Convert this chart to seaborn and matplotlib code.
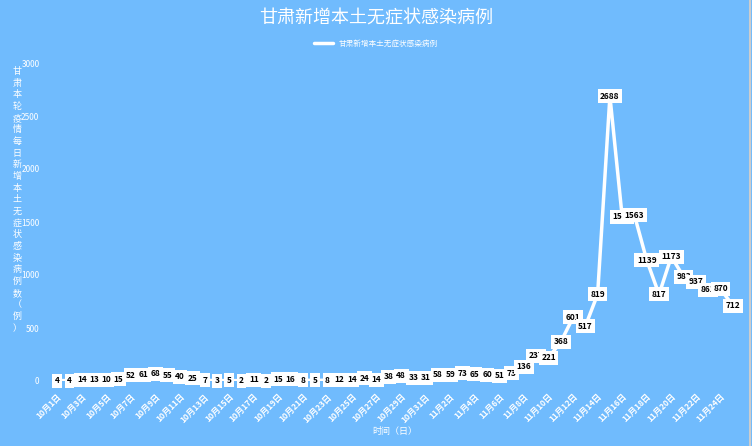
import matplotlib
matplotlib.use('Agg')
import matplotlib.pyplot as plt
import seaborn as sns
import numpy as np

# Oct 1 .. Nov 25
dates = [f'10月{d}日' for d in range(1, 32)] + [f'11月{d}日' for d in range(1, 26)]
cases = [4, 4, 14, 13, 10, 15, 52, 61, 68, 55, 40, 25, 7, 3, 5, 2, 11, 2, 15, 16,
         8, 5, 8, 12, 14, 24, 14, 38, 48, 33, 31,
         58, 59, 73, 65, 60, 51, 73, 136, 237, 221, 368, 601, 517, 819, 2688,
         1548, 1563, 1139, 817, 1173, 983, 937, 861, 870, 712]
y_ticks = [0, 500, 1000, 1500, 2000, 2500, 3000]

title = '甘肃新增本土无症状感染病例'
y_label = '甘肃本轮疫情每日新增本土无症状感染病例数（例）'
x_label = '时间（日）'
bg = '#70BBFD'

sns.set_style('white')
plt.rcParams['font.family'] = ['Noto Sans CJK SC', 'DejaVu Sans']

fig = plt.figure(figsize=(7.52, 4.46), dpi=100, facecolor=bg)
ax = fig.add_axes([45 / 752, 65 / 446, 700 / 752, 318 / 446])
ax.set_facecolor(bg)

idx = np.arange(len(cases))
sns.lineplot(x=idx, y=cases, ax=ax, color='white', linewidth=2.5, label=title)

ax.set_xlim(-1, 56)
ax.set_ylim(0, 3000)
ax.set_yticks(y_ticks)
ax.set_yticklabels([str(t) for t in y_ticks], color='white', fontsize=6)
ax.set_xticks(idx[::2])
ax.set_xticklabels(dates[::2], rotation=45, ha='right', rotation_mode='anchor',
                   color='white', fontsize=6, fontweight='bold')
ax.tick_params(length=0, pad=4)
ax.tick_params(axis='x', pad=8)
for s in ax.spines.values():
    s.set_visible(False)
ax.set_xlabel(x_label, color='white', fontsize=6.5, labelpad=2)
ax.set_ylabel('')

fig.text(17 / 752, 1 - 200 / 446, '\n'.join(y_label), color='white', fontsize=6.5,
         ha='center', va='center', linespacing=1.38)

for x, v in zip(idx, cases):
    ax.text(x, v, str(v), fontsize=6, fontweight='bold', color='black',
            ha='center', va='center', zorder=5, clip_on=False,
            bbox=dict(boxstyle='square,pad=0.3', facecolor='white', edgecolor='none'))

fig.text(0.5, 1 - 18 / 446, title, color='white', fontsize=13, ha='center',
         va='center', fontweight='light')
leg = ax.legend(loc='center', bbox_to_anchor=(0.5, 1 - 44 / 446), bbox_transform=fig.transFigure,
                frameon=False, fontsize=5.5, handlelength=2.5)
for t in leg.get_texts():
    t.set_color('white')

fig.add_artist(plt.Line2D([0.997, 0.997], [0, 1], color='#cccccc', linewidth=1.5,
                          transform=fig.transFigure))

fig.savefig('out.png', dpi=100, facecolor=bg)
